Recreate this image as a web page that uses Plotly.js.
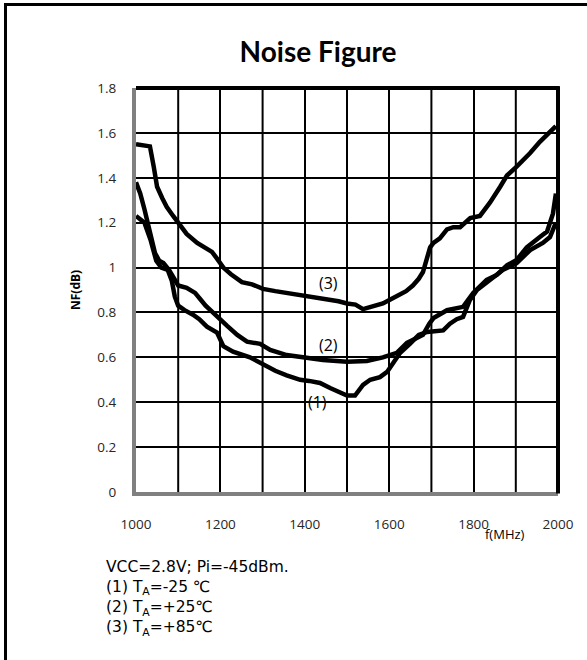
<!DOCTYPE html>
<html>
<head>
<meta charset="utf-8">
<script src="https://cdn.plot.ly/plotly-3.0.1.min.js"></script>
<style>
  html, body { margin: 0; padding: 0; background: #fff; }
  #frame { position: absolute; left: 4px; top: 3px; width: 620px; height: 700px;
           border-left: 3px solid #000; border-top: 3px solid #000; pointer-events: none; }
  #chart { position: absolute; left: 0; top: 0; width: 587px; height: 660px; }
</style>
</head>
<body>
<div id="chart"></div>
<div id="frame"></div>
<script>
// ---- data ----
const title = "Noise Figure";
const xTitle = "f(MHz)";
const yTitle = "NF(dB)";
const xTicks = [1000, 1200, 1400, 1600, 1800, 2000];
const yTicks = [0, 0.2, 0.4, 0.6, 0.8, 1, 1.2, 1.4, 1.6, 1.8];
const yTickLabels = ["0", "0.2", "0.4", "0.6", "0.8", "1", "1.2", "1.4", "1.6", "1.8"];

// (1) TA = -25 C
const freq1 = [1000, 1020, 1035, 1048, 1060, 1075, 1085, 1092, 1100, 1115, 1135, 1150, 1168, 1192, 1207, 1230, 1270, 1301, 1330, 1357, 1389, 1410, 1436, 1460, 1483, 1500, 1519, 1538, 1555, 1578, 1595, 1609, 1626, 1649, 1670, 1690, 1728, 1744, 1760, 1775, 1791, 1808, 1839, 1870, 1902, 1934, 1964, 1981, 1995];
const nf1   = [1.23, 1.20, 1.12, 1.03, 1.00, 0.99, 0.94, 0.87, 0.83, 0.81, 0.79, 0.77, 0.737, 0.71, 0.65, 0.625, 0.60, 0.566, 0.54, 0.52, 0.50, 0.495, 0.486, 0.463, 0.441, 0.43, 0.43, 0.477, 0.50, 0.512, 0.535, 0.575, 0.62, 0.66, 0.70, 0.713, 0.72, 0.75, 0.77, 0.78, 0.855, 0.90, 0.945, 0.99, 1.02, 1.078, 1.11, 1.136, 1.20];

// (2) TA = +25 C
const freq2 = [1000, 1010, 1020, 1028, 1038, 1045, 1055, 1065, 1078, 1090, 1100, 1120, 1140, 1152, 1165, 1182, 1200, 1216, 1240, 1263, 1294, 1318, 1357, 1405, 1443, 1500, 1547, 1585, 1618, 1642, 1666, 1680, 1695, 1705, 1737, 1775, 1799, 1831, 1855, 1879, 1902, 1926, 1957, 1974, 1988, 1995];
const nf2   = [1.38, 1.33, 1.26, 1.20, 1.12, 1.065, 1.03, 1.02, 0.99, 0.955, 0.92, 0.91, 0.887, 0.86, 0.83, 0.80, 0.766, 0.74, 0.70, 0.67, 0.66, 0.633, 0.61, 0.597, 0.588, 0.58, 0.584, 0.60, 0.62, 0.664, 0.69, 0.70, 0.75, 0.775, 0.81, 0.825, 0.887, 0.945, 0.967, 1.01, 1.034, 1.09, 1.136, 1.16, 1.24, 1.33];

// (3) TA = +85 C
const freq3 = [1000, 1015, 1033, 1042, 1050, 1062, 1073, 1088, 1100, 1120, 1145, 1168, 1180, 1192, 1207, 1225, 1251, 1275, 1301, 1330, 1357, 1390, 1420, 1450, 1480, 1500, 1520, 1538, 1560, 1585, 1605, 1625, 1640, 1656, 1670, 1680, 1690, 1697, 1705, 1720, 1737, 1752, 1768, 1780, 1792, 1815, 1839, 1863, 1879, 1902, 1920, 1934, 1957, 1975, 1995];
const nf3   = [1.55, 1.545, 1.54, 1.45, 1.36, 1.31, 1.27, 1.23, 1.20, 1.15, 1.11, 1.08, 1.07, 1.04, 1.00, 0.97, 0.935, 0.925, 0.905, 0.895, 0.887, 0.878, 0.87, 0.86, 0.85, 0.84, 0.835, 0.815, 0.825, 0.84, 0.86, 0.88, 0.895, 0.92, 0.95, 0.98, 1.04, 1.09, 1.11, 1.13, 1.17, 1.18, 1.18, 1.20, 1.22, 1.23, 1.29, 1.36, 1.41, 1.45, 1.48, 1.51, 1.56, 1.59, 1.63];

const curveLabels = ["(1)", "(2)", "(3)"];
const labelX = [1431, 1455, 1455];
const labelY = [0.40, 0.655, 0.93];
const noteLines = ["VCC=2.8V; Pi=-45dBm.", "(1) T<sub>A</sub>=-25 ℃", "(2) T<sub>A</sub>=+25℃", "(3) T<sub>A</sub>=+85℃"];

// ---- chart ----
const lineStyle = { color: "#000", width: 4.5, shape: "linear" };
const traces = [
  { x: freq1, y: nf1, mode: "lines", line: lineStyle, name: "(1)", hoverinfo: "x+y" },
  { x: freq2, y: nf2, mode: "lines", line: lineStyle, name: "(2)", hoverinfo: "x+y" },
  { x: freq3, y: nf3, mode: "lines", line: lineStyle, name: "(3)", hoverinfo: "x+y" }
];

const baseFont = "Open Sans, Noto Sans, sans-serif";
const tickFont = { family: baseFont, size: 13.5, color: "#262626" };

const annotations = curveLabels.map((t, i) => ({
  x: labelX[i], y: labelY[i], xref: "x", yref: "y", text: t, showarrow: false,
  font: { family: baseFont, size: 16, color: "#000" }
}));
annotations.push({
  xref: "paper", yref: "paper", x: (505 - 136) / 422, y: (492 - 534) / 404,
  text: xTitle, showarrow: false, xanchor: "center", yanchor: "middle",
  font: { family: baseFont, size: 13, color: "#000" }
});
annotations.push({
  xref: "paper", yref: "paper", x: (75 - 136) / 422, y: (492 - 290) / 404,
  text: "<b>" + yTitle + "</b>", showarrow: false, textangle: -90,
  xanchor: "center", yanchor: "middle",
  font: { family: baseFont, size: 12, color: "#000" }
});
annotations.push({
  xref: "paper", yref: "paper", x: (104 - 136) / 422, y: (492 - 556) / 404,
  text: noteLines.join("<br>"), showarrow: false, xanchor: "left", yanchor: "top", align: "left",
  font: { family: "DejaVu Sans, Noto Sans, sans-serif", size: 15.5, color: "#000" }
});

const layout = {
  width: 587, height: 660,
  paper_bgcolor: "#fff", plot_bgcolor: "#fff",
  margin: { l: 136, r: 29, t: 88, b: 168, pad: 0 },
  showlegend: false,
  title: {
    text: "<b>" + title + "</b>", xref: "container", x: 318 / 587, xanchor: "center",
    yref: "container", y: 1 - 52 / 660, yanchor: "middle",
    font: { family: "Lato, Open Sans, sans-serif", size: 28, color: "#000" }
  },
  xaxis: {
    range: [1000, 2000], tickvals: xTicks, ticktext: xTicks.map(String),
    showgrid: true, gridcolor: "#000", gridwidth: 2,
    showline: true, linecolor: "#808080", linewidth: 4,
    ticks: "", ticklabelstandoff: 17, tickfont: tickFont,
    zeroline: false, fixedrange: true
  },
  yaxis: {
    range: [0, 1.8], tickvals: yTicks, ticktext: yTickLabels,
    showgrid: true, gridcolor: "#000", gridwidth: 2,
    showline: true, linecolor: "#808080", linewidth: 4,
    ticks: "", ticklabelstandoff: 13, tickfont: tickFont,
    zeroline: false, fixedrange: true
  },
  shapes: [
    ...[1100, 1300, 1500, 1700, 1900].map(v => ({
      type: "line", xref: "x", yref: "paper", x0: v, x1: v, y0: 0, y1: 1,
      line: { color: "#000", width: 2 }, layer: "below"
    })),
    { type: "line", xref: "paper", yref: "paper", x0: 0, x1: 1.004, y0: 1, y1: 1, line: { color: "#000", width: 4 } },
    { type: "line", xref: "paper", yref: "paper", x0: 1, x1: 1, y0: -0.004, y1: 1.004, line: { color: "#000", width: 4 } }
  ],
  annotations: annotations
};

Plotly.newPlot("chart", traces, layout, { displayModeBar: false, staticPlot: true });
</script>
</body>
</html>
